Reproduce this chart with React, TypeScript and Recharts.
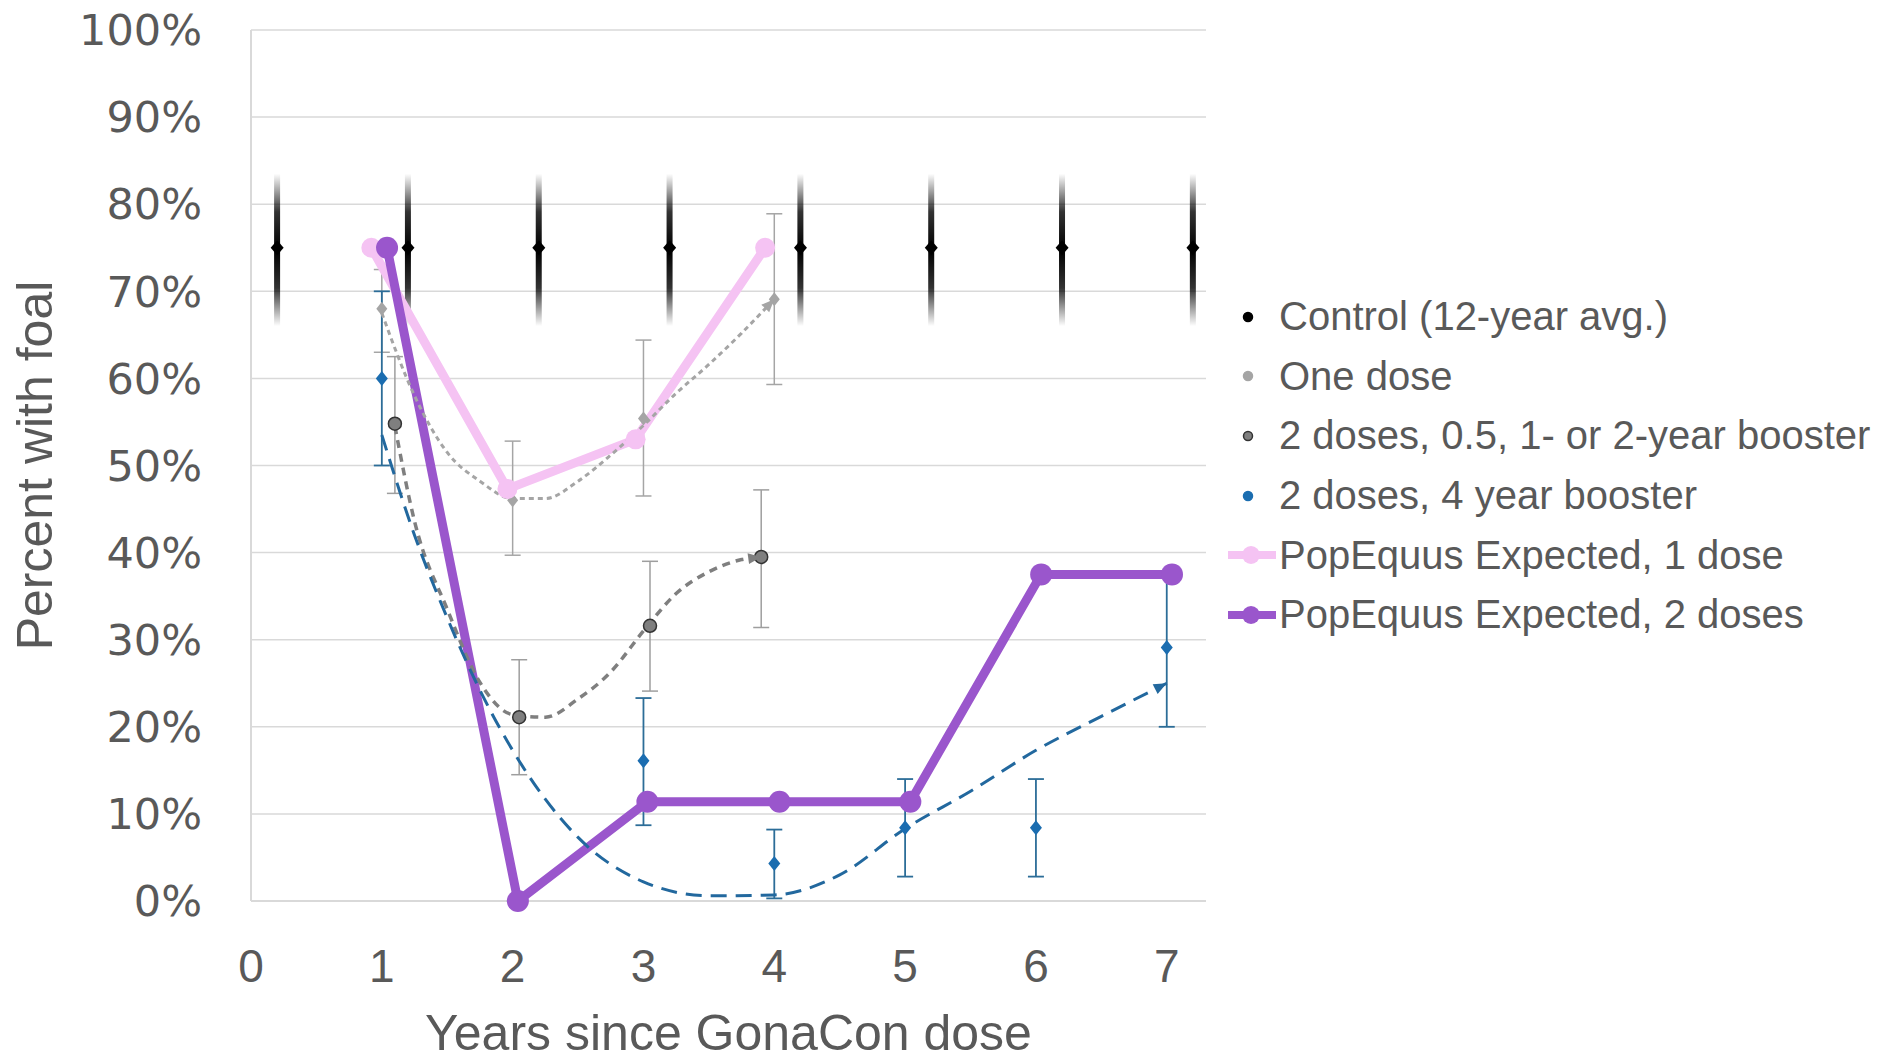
import React from "react";
import {
  Bar,
  CartesianGrid,
  ComposedChart,
  ErrorBar,
  Line,
  Scatter,
  XAxis,
  YAxis,
} from "recharts";

// axis ticks
const xTicks = [0, 1, 2, 3, 4, 5, 6, 7];
const yTicks = [0, 10, 20, 30, 40, 50, 60, 70, 80, 90, 100];

// control (12-year avg.), shown with a faded range bar
const controlX = [0.2, 1.2, 2.2, 3.2, 4.2, 5.2, 6.2, 7.2];
const controlY = [75, 75, 75, 75, 75, 75, 75, 75];
const controlLow = [66, 66, 66, 66, 66, 66, 66, 66];
const controlHigh = [83.5, 83.5, 83.5, 83.5, 83.5, 83.5, 83.5, 83.5];

// one dose
const oneX = [1, 2, 3, 4];
const oneY = [68, 46, 55.4, 69.1];
const oneLow = [63, 39.7, 46.5, 59.3];
const oneHigh = [72.5, 52.8, 64.4, 78.9];

// 2 doses, 0.5, 1- or 2-year booster
const twoX = [1.1, 2.05, 3.05, 3.9];
const twoY = [54.8, 21.1, 31.6, 39.5];
const twoLow = [46.8, 14.5, 24.1, 31.4];
const twoHigh = [62.5, 27.7, 39, 47.2];

// 2 doses, 4 year booster
const blueX = [1, 2, 3, 4, 5, 6, 7];
const blueY = [60, 0, 16.1, 4.3, 8.4, 8.4, 29.1];
const blueLow = [50, 0, 8.7, 0.3, 2.8, 2.8, 20];
const blueHigh = [70, 0, 23.3, 8.2, 14, 14, 37.6];

// PopEquus expected
const pinkX = [0.92, 1.96, 2.94, 3.93];
const pinkY = [75, 47.3, 53, 75];
const purpleX = [1.04, 2.04, 3.03, 4.04, 5.04, 6.04, 7.04];
const purpleY = [75, 0, 11.4, 11.4, 11.4, 37.5, 37.5];

// trend lines
const oneTrendX = [1, 1.25, 1.5, 1.75, 2, 2.25, 2.5, 2.75, 3, 3.25, 3.5, 3.75, 4];
const oneTrendY = [67.5, 58, 51.5, 48.2, 46.2, 46.2, 48.2, 51.2, 54.6, 58.3, 61.6, 65.2, 69.1];
const twoTrendX = [1.1, 1.25, 1.5, 1.75, 2, 2.25, 2.5, 2.75, 3, 3.25, 3.5, 3.75, 3.9];
const twoTrendY = [54.5, 43.6, 33.5, 25.1, 21.4, 21.1, 23.2, 26.3, 31, 35.3, 37.8, 39.2, 39.5];
const blueTrendX = [1, 1.25, 1.5, 1.75, 2, 2.5, 3, 3.5, 4, 4.5, 5, 5.5, 6, 6.5, 7];
const blueTrendY = [53.5, 42, 32.5, 24.2, 17.3, 7.3, 2.2, 0.6, 0.7, 3, 8.3, 12.6, 17.3, 21.2, 25];

const legendLabels = [
  "Control (12-year avg.)",
  "One dose",
  "2 doses, 0.5, 1- or 2-year booster",
  "2 doses, 4 year booster",
  "PopEquus Expected, 1 dose",
  "PopEquus Expected, 2 doses",
];

const FONT = "'Liberation Sans', Arial, sans-serif";
const TEXT = "#595959";
const BLUE = "#1B6DB0";
const BLUE_BAR = "#2C6D98";
const BLUE_TREND = "#22689E";
const ONE = "#A5A5A5";
const TWO = "#7F7F7F";
const PINK = "#F5C3F3";
const PURPLE = "#9A56CC";

const pts = (xs: number[], ys: number[], lo?: number[], hi?: number[]) =>
  xs.map((x, i) => ({
    x,
    y: ys[i],
    err: lo && hi ? [ys[i] - lo[i], hi[i] - ys[i]] : undefined,
  }));

const controlData = controlX.map((x, i) => ({
  x,
  y: controlY[i],
  range: [controlLow[i], controlHigh[i]],
}));

const diamond = (fill: string, w: number, h: number) => (p: any) => (
  <path
    d={`M${p.cx},${p.cy - h}L${p.cx + w},${p.cy}L${p.cx},${p.cy + h}L${p.cx - w},${p.cy}Z`}
    fill={fill}
  />
);

// faded vertical bar, centred on the bar slot the library gives
const FadeBar = (p: any) => (
  <rect x={p.x + p.width / 2 - 3} y={p.y} width={6} height={p.height} fill="url(#ctrlFade)" />
);

// arrow head at the end of a trend line
const arrowEnd = (color: string, last: number) => (p: any) => {
  if (p.index !== last || !p.points || p.points.length < 2) return <g key={p.index} />;
  const a = p.points[p.points.length - 2];
  const b = p.points[p.points.length - 1];
  const ang = Math.atan2(b.y - a.y, b.x - a.x);
  const len = 13;
  const half = 5.5;
  const bx = b.x - len * Math.cos(ang);
  const by = b.y - len * Math.sin(ang);
  const nx = -Math.sin(ang) * half;
  const ny = Math.cos(ang) * half;
  return (
    <path
      key={p.index}
      d={`M${b.x},${b.y}L${bx + nx},${by + ny}L${bx - nx},${by - ny}Z`}
      fill={color}
    />
  );
};

const YTitle = (props: any) => {
  const vb = props.viewBox;
  const cx = 52;
  const cy = vb.y + vb.height / 2;
  return (
    <text
      x={cx}
      y={cy}
      transform={`rotate(-90 ${cx} ${cy})`}
      textAnchor="middle"
      fill={TEXT}
      fontSize={50}
      fontFamily={FONT}
    >
      Percent with foal
    </text>
  );
};

const markers = [
  { kind: "dot", color: "#000000", stroke: "#000000" },
  { kind: "dot", color: ONE, stroke: ONE },
  { kind: "dot", color: TWO, stroke: "#333333" },
  { kind: "dot", color: BLUE, stroke: BLUE },
  { kind: "line", color: PINK, stroke: PINK },
  { kind: "line", color: PURPLE, stroke: PURPLE },
];

function ChartLegend() {
  return (
    <div
      style={{
        position: "absolute",
        left: 1226,
        top: 287,
        fontFamily: FONT,
        fontSize: 40,
        color: TEXT,
      }}
    >
      {legendLabels.map((label, i) => (
        <div
          key={label}
          style={{ display: "flex", alignItems: "center", height: 59.6, whiteSpace: "nowrap" }}
        >
          <svg width={50} height={30} style={{ marginRight: 3 }}>
            {markers[i].kind === "line" ? (
              <>
                <line x1={2} y1={15} x2={50} y2={15} stroke={markers[i].color} strokeWidth={8} />
                <circle cx={25} cy={15} r={9} fill={markers[i].color} />
              </>
            ) : (
              <circle cx={22} cy={15} r={4.5} fill={markers[i].color} stroke={markers[i].stroke} strokeWidth={1.5} />
            )}
          </svg>
          <span>{label}</span>
        </div>
      ))}
    </div>
  );
}

export default function App() {
  return (
    <div style={{ position: "absolute", left: 0, top: 0, width: 1895, height: 1062, background: "#fff" }}>
      <ComposedChart
        width={1895}
        height={1062}
        data={controlData}
        margin={{ top: 30, right: 689, bottom: 0, left: 0 }}
      >
        <defs>
          <linearGradient id="ctrlFade" x1="0" y1="0" x2="0" y2="1">
            <stop offset="0%" stopColor="#000" stopOpacity={0} />
            <stop offset="25%" stopColor="#000" stopOpacity={0.8} />
            <stop offset="50%" stopColor="#000" stopOpacity={1} />
            <stop offset="75%" stopColor="#000" stopOpacity={0.8} />
            <stop offset="100%" stopColor="#000" stopOpacity={0} />
          </linearGradient>
        </defs>
        <CartesianGrid vertical={false} stroke="#D9D9D9" strokeWidth={1.5} />
        <XAxis
          type="number"
          dataKey="x"
          domain={[0, 7.3]}
          ticks={xTicks}
          allowDataOverflow
          height={161}
          axisLine={{ stroke: "#D9D9D9", strokeWidth: 2 }}
          tickLine={false}
          tickSize={0}
          tickMargin={48}
          tick={{ fill: TEXT, fontSize: 46, fontFamily: FONT }}
          label={{
            value: "Years since GonaCon dose",
            position: "insideBottom",
            offset: 12,
            fill: TEXT,
            fontSize: 50,
            fontFamily: FONT,
          }}
        />
        <YAxis
          type="number"
          domain={[0, 100]}
          ticks={yTicks}
          width={251}
          axisLine={{ stroke: "#D9D9D9", strokeWidth: 2 }}
          tickLine={false}
          tickSize={0}
          tickMargin={49}
          tickFormatter={(v) => `${v}%`}
          tick={{ fill: TEXT, fontSize: 43, fontFamily: "'DejaVu Sans', sans-serif" }}
          label={<YTitle />}
        />

        <Bar dataKey="range" barSize={6} shape={FadeBar} isAnimationActive={false} />
        <Scatter data={controlData} dataKey="y" shape={diamond("#000", 6.5, 7.5)} isAnimationActive={false} />

        <Scatter data={pts(oneX, oneY, oneLow, oneHigh)} dataKey="y" shape={diamond(ONE, 5.5, 7)} isAnimationActive={false}>
          <ErrorBar dataKey="err" direction="y" width={8} stroke={ONE} strokeWidth={1.5} />
        </Scatter>
        <Scatter
          data={pts(twoX, twoY, twoLow, twoHigh)}
          dataKey="y"
          shape={(p: any) => <circle cx={p.cx} cy={p.cy} r={6.5} fill={TWO} stroke="#333" strokeWidth={1.5} />}
          isAnimationActive={false}
        >
          <ErrorBar dataKey="err" direction="y" width={8} stroke="#9E9E9E" strokeWidth={1.5} />
        </Scatter>
        <Scatter data={pts(blueX, blueY, blueLow, blueHigh)} dataKey="y" shape={diamond(BLUE, 6, 7.5)} isAnimationActive={false}>
          <ErrorBar dataKey="err" direction="y" width={8} stroke={BLUE_BAR} strokeWidth={1.8} />
        </Scatter>

        <Line
          data={pts(pinkX, pinkY)}
          dataKey="y"
          type="linear"
          stroke={PINK}
          strokeWidth={9}
          dot={{ r: 10, fill: PINK, stroke: PINK, strokeWidth: 0 }}
          activeDot={false}
          isAnimationActive={false}
        />
        <Line
          data={pts(purpleX, purpleY)}
          dataKey="y"
          type="linear"
          stroke={PURPLE}
          strokeWidth={9}
          dot={{ r: 11, fill: PURPLE, stroke: PURPLE, strokeWidth: 0 }}
          activeDot={false}
          isAnimationActive={false}
        />

        <Line
          data={pts(oneTrendX, oneTrendY)}
          dataKey="y"
          type="monotone"
          stroke={ONE}
          strokeWidth={3}
          strokeDasharray="5 4"
          dot={arrowEnd(ONE, oneTrendX.length - 1)}
          activeDot={false}
          isAnimationActive={false}
        />
        <Line
          data={pts(twoTrendX, twoTrendY)}
          dataKey="y"
          type="monotone"
          stroke={TWO}
          strokeWidth={3.5}
          strokeDasharray="8 6"
          dot={arrowEnd(TWO, twoTrendX.length - 1)}
          activeDot={false}
          isAnimationActive={false}
        />
        <Line
          data={pts(blueTrendX, blueTrendY)}
          dataKey="y"
          type="monotone"
          stroke={BLUE_TREND}
          strokeWidth={3}
          strokeDasharray="16 9"
          dot={arrowEnd(BLUE_TREND, blueTrendX.length - 1)}
          activeDot={false}
          isAnimationActive={false}
        />
      </ComposedChart>
      <ChartLegend />
    </div>
  );
}
